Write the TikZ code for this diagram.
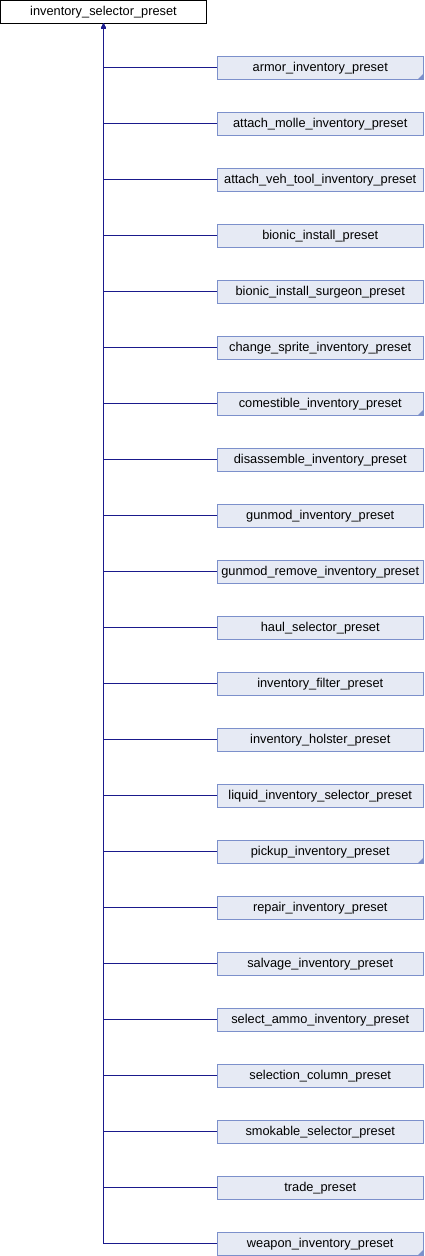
\documentclass[tikz,border=0pt]{standalone}
\usepackage{fontspec}
\setmainfont{Liberation Sans}
\usetikzlibrary{arrows.meta}
\definecolor{boxfill}{HTML}{E6EAF4}
\definecolor{boxline}{HTML}{7C90CB}
\definecolor{edgecol}{HTML}{1A1A8C}
\tikzset{
  rootbox/.style={draw=black, fill=white, line width=1pt, minimum width=206pt, minimum height=22.5pt, inner sep=0pt, font=\fontsize{12.8pt}{14pt}\selectfont},
  childbox/.style={draw=boxline, fill=boxfill, line width=1pt, minimum width=205.5pt, minimum height=22.5pt, inner sep=0pt, font=\fontsize{12.8pt}{14pt}\selectfont},
  inherit/.style={draw=edgecol, line width=1pt, -{Triangle[length=5pt,width=4.5pt]}},
  moremark/.style={fill=boxline}
}
\begin{document}
\begin{tikzpicture}[x=1pt,y=-1pt]
\useasboundingbox (0,0) rectangle (424,1256);
\node[rootbox] (root) at (103.5,11.75) {inventory\_selector\_preset};
\foreach \name [count=\k from 0] in {
  armor\_inventory\_preset,
  attach\_molle\_inventory\_preset,
  attach\_veh\_tool\_inventory\_preset,
  bionic\_install\_preset,
  bionic\_install\_surgeon\_preset,
  change\_sprite\_inventory\_preset,
  comestible\_inventory\_preset,
  disassemble\_inventory\_preset,
  gunmod\_inventory\_preset,
  gunmod\_remove\_inventory\_preset,
  haul\_selector\_preset,
  inventory\_filter\_preset,
  inventory\_holster\_preset,
  liquid\_inventory\_selector\_preset,
  pickup\_inventory\_preset,
  repair\_inventory\_preset,
  salvage\_inventory\_preset,
  select\_ammo\_inventory\_preset,
  selection\_column\_preset,
  smokable\_selector\_preset,
  trade\_preset,
  weapon\_inventory\_preset}
{
  \node[childbox] (c\k) at (320.25,67.75+56*\k) {\name};
  \draw[inherit] (c\k.west) -| (root.south);
}
\foreach \k in {0,6,14,21}{
  \fill[moremark] (c\k.south east) -- ++(-6,0) -- ++(6,-6) -- cycle;
}
\end{tikzpicture}
\end{document}
